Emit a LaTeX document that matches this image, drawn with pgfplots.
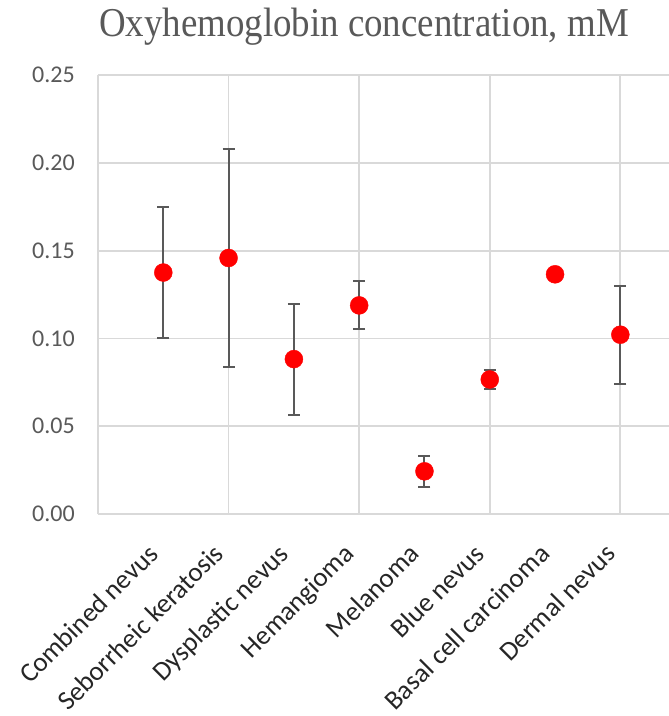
\documentclass[border=0pt]{standalone}
\usepackage{pgfplots}
\pgfplotsset{compat=1.18}
\usepackage{fontspec}
\setmainfont{Liberation Serif}
\newfontfamily\titlefont[FakeStretch=0.9]{Liberation Serif}
\newfontfamily\calibri{Carlito}
\definecolor{gridgray}{HTML}{D9D9D9}
\definecolor{labelgray}{HTML}{595959}
\definecolor{bargray}{HTML}{595959}
\definecolor{catlabel}{HTML}{262626}

\begin{document}
\begin{tikzpicture}[x=1pt,y=1pt]
\path[use as bounding box] (-98,-202) rectangle (571,514);
\begin{axis}[
  at={(0,0)}, anchor=south west,
  scale only axis, width=571pt, height=439pt,
  xmin=0, xmax=8.745, ymin=0, ymax=0.25,
  xtick={1,...,8},
  xticklabels={Combined nevus, Seborrheic keratosis, Dysplastic nevus, Hemangioma, Melanoma, Blue nevus, Basal cell carcinoma, Dermal nevus},
  minor xtick={0,2,4,6,8},
  xminorgrids=true, xmajorgrids=false,
  ytick={0,0.05,...,0.25},
  ymajorgrids=true,
  grid style={gridgray, line width=1.8pt},
  minor grid style={gridgray, line width=1.8pt},
  axis line style={draw=none},
  major tick length=0pt, minor tick length=0pt,
  tick style={draw=none},
  /pgf/number format/assume math mode=true,
  yticklabel={\pgfmathprintnumber[fixed, fixed zerofill, precision=2]{\tick}},
  yticklabel style={font=\calibri\fontsize{24}{24}\selectfont, text=labelgray, anchor=east, inner sep=0pt, xshift=-23pt},
  xticklabel style={font=\calibri\fontsize{27}{27}\selectfont, text=catlabel, inner sep=0pt, xshift=-17pt, yshift=-28pt, rotate=45, anchor=north east},
  clip=false,
]
\addplot[only marks, red, mark=*, mark size=9pt, mark options={fill=red, draw=red},
  error bars/.cd, y dir=both, y explicit,
  error bar style={bargray, line width=2pt},
  error mark options={rotate=90, mark size=6pt, bargray, line width=2pt}]
coordinates {
  (1,0.1375) +- (0,0.0372)
  (2,0.1458) +- (0,0.0621)
  (3,0.0882) +- (0,0.0316)
  (4,0.1188) +- (0,0.0137)
  (5,0.0243) +- (0,0.0087)
  (6,0.0766) +- (0,0.0054)
  (7,0.1365) +- (0,0)
  (8,0.1021) +- (0,0.0279)
};
\end{axis}
\node[anchor=base, text=labelgray, font=\titlefont\fontsize{41}{41}\selectfont] at (266,477) {Oxyhemoglobin concentration, mM};
\end{tikzpicture}
\end{document}
